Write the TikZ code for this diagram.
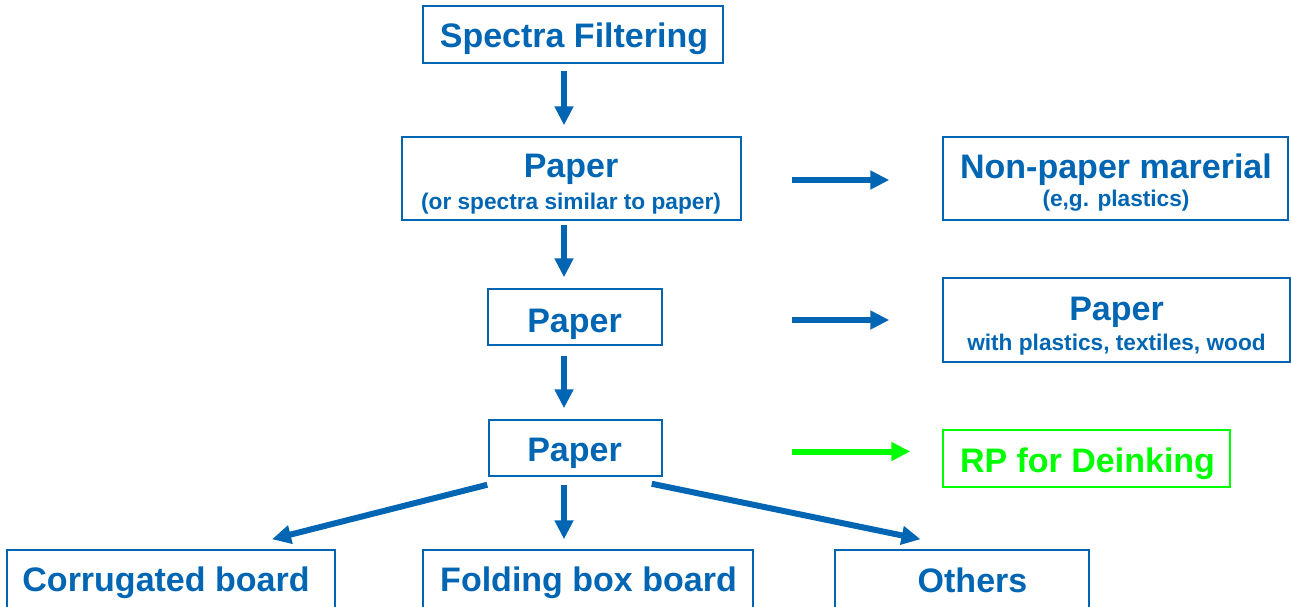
\documentclass[tikz,border=0pt]{standalone}
\usepackage{fontspec}
\setmainfont{Liberation Sans}
\usetikzlibrary{arrows.meta}
\definecolor{fblue}{RGB}{0,102,179}
\definecolor{fgreen}{RGB}{0,255,0}
\tikzset{
  box/.style={draw=fblue, line width=0.9pt, rectangle, inner sep=0pt},
  gbox/.style={draw=fgreen, line width=0.9pt, rectangle, inner sep=0pt},
  bigtxt/.style={text=fblue, font=\fontsize{20.4pt}{24pt}\selectfont\bfseries, inner sep=0pt, anchor=base},
  smalltxt/.style={text=fblue, font=\fontsize{13.6pt}{16pt}\selectfont\bfseries, inner sep=0pt, anchor=base},
  arr/.style={draw=fblue, line width=3.6pt, -{Triangle[width=10.8pt,length=11.4pt]}},
  garr/.style={draw=fgreen, line width=3.6pt, -{Triangle[width=10.8pt,length=11.4pt]}},
}
\newcommand{\bx}[5]{% name, x1, y1, x2, y2
  \node[box, minimum width={(#4-#2)*0.6pt}, minimum height={(#5-#3)*0.6pt}] (#1) at ({(#2+#4)/2},{(#3+#5)/2}) {};}
\begin{document}
\begin{tikzpicture}[x=0.6pt, y=-0.6pt]
\useasboundingbox (0,0) rectangle (1291,606);
\clip (0,0) rectangle (1291,606);
% boxes
\bx{sf}{423}{6}{723}{63}
\bx{p1}{402}{137}{741}{220}
\bx{np}{943}{137}{1288}{220}
\bx{p2}{488}{289}{662}{345}
\bx{pw}{943}{278}{1290}{362}
\bx{p3}{489}{420}{662}{476}
\node[gbox, minimum width={287*0.6pt}, minimum height={57*0.6pt}] (rp) at (1086.5,458.5) {};
\bx{cb}{7}{550}{335}{650}
\bx{fb}{423}{550}{753}{650}
\bx{oth}{835}{550}{1089}{650}
% texts
\node[bigtxt] (sft) at (574,47) {Spectra Filtering};
\node[bigtxt] (p1t) at (571,177) {Paper};
\node[smalltxt] (p1s) at (571,209) {(or spectra similar to paper)};
\node[bigtxt] (npt) at (1116,178) {Non-paper marerial};
\node[smalltxt] (nps) at (1116,206) {(e,g. plastics)};
\node[bigtxt] (p2t) at (574.5,332) {Paper};
\node[bigtxt] (pwt) at (1116.5,320) {Paper};
\node[smalltxt] (pws) at (1116.5,350) {with plastics, textiles, wood};
\node[bigtxt] (p3t) at (574.5,461) {Paper};
\node[bigtxt, text=fgreen] (rpt) at (1087.5,472) {RP for Deinking};
\node[bigtxt] (cbt) at (166,591) {Corrugated board};
\node[bigtxt] (fbt) at (588.5,591) {Folding box board};
\node[bigtxt] (otht) at (972.5,592) {Others};
% arrows
\coordinate (ax) at (564,0);
\draw[arr, shorten <=4.2pt, shorten >=6.6pt] (sf.south -| ax) -- (p1.north -| ax);
\draw[arr, shorten <=2.4pt, shorten >=6.6pt] (p1.south -| ax) -- (p2.north -| ax);
\draw[arr, shorten <=6pt, shorten >=6.6pt] (p2.south -| ax) -- (p3.north -| ax);
\draw[arr, shorten <=4.8pt, shorten >=6pt] (p3.south -| ax) -- (fb.north -| ax);
\draw[arr, shorten <=30pt, shorten >=31.8pt] ([yshift=-0.9pt]p1.east) -- ([yshift=-0.9pt]np.west);
\draw[arr, shorten <=30pt, shorten >=31.8pt] (pw.west -| p1.east) -- (pw.west);
\draw[garr, shorten <=30pt, shorten >=19.2pt] ([yshift=4.2pt]rp.west -| p1.east) -- ([yshift=4.2pt]rp.west);
\draw[arr] ([xshift=-0.6pt,yshift=-4.8pt]p3.south west) -- ([xshift=60.6pt,yshift=6pt]cb.north);
\draw[arr] ([xshift=-6.6pt,yshift=-4.2pt]p3.south east) -- ([xshift=-24.9pt,yshift=6pt]oth.north);
\end{tikzpicture}
\end{document}
